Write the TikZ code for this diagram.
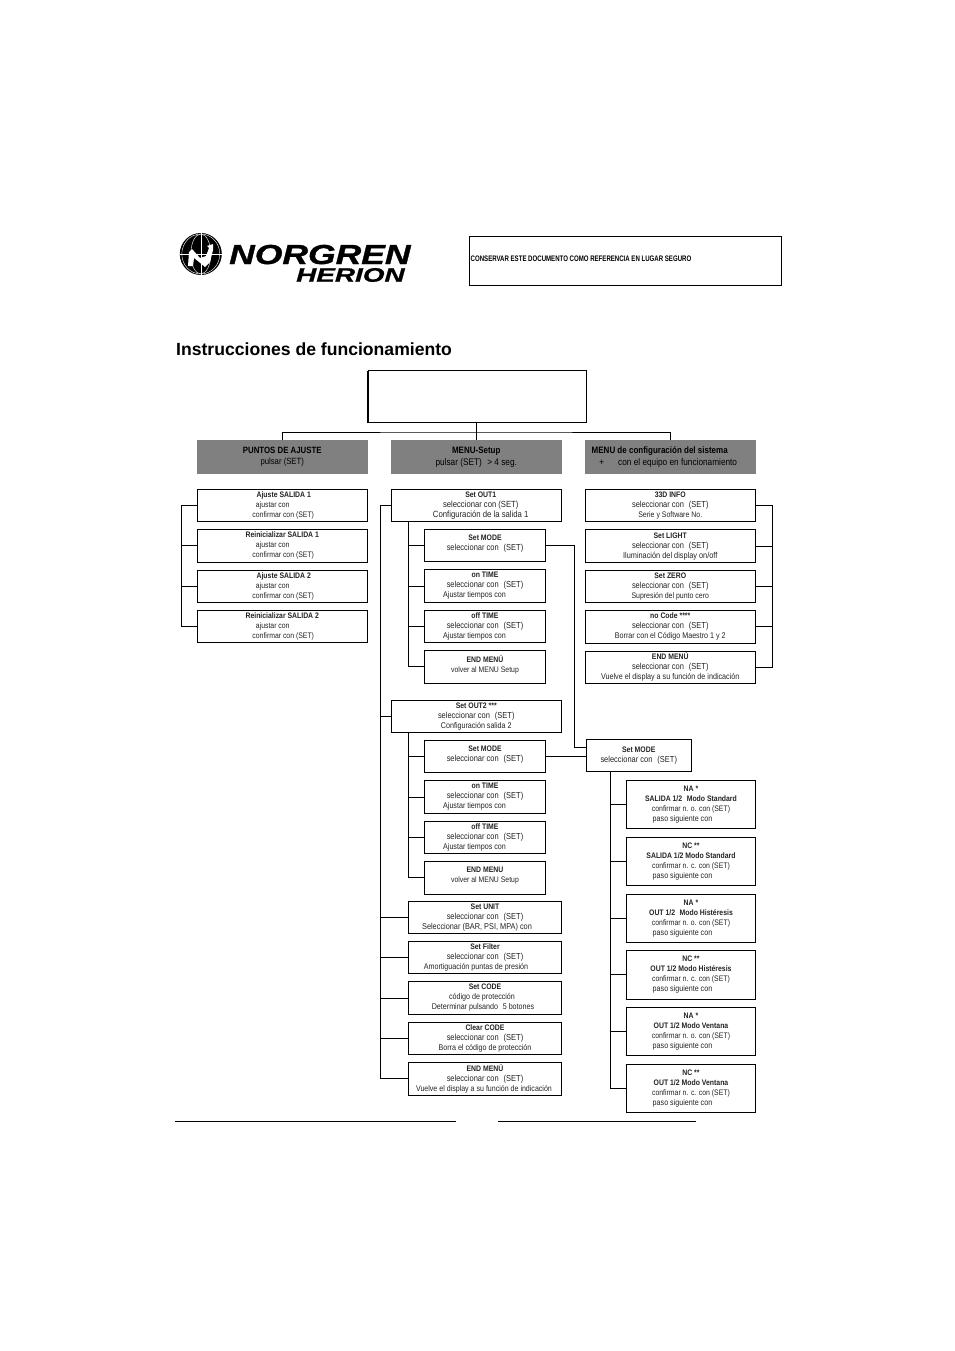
\documentclass[tikz,border=0pt]{standalone}
\usepackage{fontspec}
\usepackage{xcolor}
\usetikzlibrary{positioning,calc}
\setmainfont[FakeStretch=0.86]{Liberation Sans}
\newfontfamily\titlefont{Liberation Sans}
\newfontfamily\notefont[FakeStretch=0.76]{Liberation Sans}
\newfontfamily\brandfont[FakeStretch=1.29,FakeBold=1.2]{Liberation Sans}
\newfontfamily\subbrandfont[FakeStretch=1.43,FakeBold=1]{Liberation Sans}
\definecolor{headgray}{RGB}{128, 128, 128}
\definecolor{inktext}{RGB}{35, 35, 35}
\newcommand{\gapline}{\\[-4.6pt]~}
\newcommand{\shiftl}[1]{\mbox{}\kern#1pt\mbox{}}
\newcommand{\ttl}[1]{{\fontsize{8}{10}\selectfont\bfseries #1}}
\newcommand{\sized}[2]{{\fontsize{#1}{10}\selectfont #2}}
\newcommand{\selcon}{\sized{8.7}{seleccionar con\,\, (SET)}}

\begin{document}
\begin{tikzpicture}[
    x=1pt, y=-1pt,
    node distance=8pt,
    wire/.style={draw=black, line width=0.9pt},
    basebox/.style={draw=black, line width=0.9pt, outer sep=0pt, inner sep=0pt, align=center, text=inktext, font=\fontsize{8.3}{10}\selectfont},
    headbox/.style={basebox, draw=none, fill=headgray, text=black, anchor=north west, minimum width=170.5pt, minimum height=34pt, font=\fontsize{9.6}{11.5}\selectfont},
    wideitem/.style={basebox, minimum width=170.5pt, minimum height=32.4pt},
    leftitem/.style={wideitem, font=\fontsize{8}{10}\selectfont},
    subitem/.style={basebox, minimum width=121.4pt, minimum height=32.4pt},
    lowitem/.style={basebox, minimum width=153.4pt, minimum height=32.4pt},
    modeitem/.style={basebox, minimum width=128.6pt, minimum height=48.2pt},
]
    \useasboundingbox (0,0) rectangle (954,1351);

    % Logo
    \node[circle, fill=black, minimum size=42pt, inner sep=0pt] (globe) at (200.8,254) {};
    \begin{scope}[white, line width=0.4pt]
        \draw (globe.center) ellipse (10pt and 20pt);
        \draw (globe.center) ellipse (19pt and 20pt);
        \draw (globe.north) -- (globe.south);
        \draw (globe.west) -- (globe.east);
        \fill (188,266) -- (189,252) -- (192,249) -- (200,258) -- (206,256) -- (209,248) -- (207,246) -- (213,244) -- (213,250) -- (210,262) -- (205,267) -- (199,262) -- (194,258) -- (193,266) -- cycle;
    \end{scope}
    \node[anchor=base west, inner sep=0pt, text depth=0pt, text height=20pt, font=\brandfont\bfseries\itshape\fontsize{27.5}{29}\selectfont] (norgren) at (229,264) {NORGREN};
    \node[anchor=base west, inner sep=0pt, text depth=0pt, text height=14pt, font=\subbrandfont\bfseries\itshape\fontsize{19.5}{21}\selectfont] (herion) at (296,281.7) {HERION};

    % Page head
    \node[basebox, anchor=north west, minimum width=312pt, minimum height=49.5pt] (notebox) at (469.5,236) {};
    \node[anchor=west, inner sep=0pt, font=\notefont\bfseries\fontsize{8}{9}\selectfont] (notetext) at (470.5,259) {CONSERVAR ESTE DOCUMENTO COMO REFERENCIA EN LUGAR SEGURO};
    \node[anchor=base west, inner sep=0pt, font=\titlefont\bfseries\fontsize{17.6}{20}\selectfont] (pagetitle) at (176,355.5) {Instrucciones de funcionamiento};

    % Column heads
    \node[basebox, anchor=north west, minimum width=218.5pt, minimum height=52pt] (topbox) at (368,370.5) {};
    \draw[line width=1.5pt] (topbox.north west) -- (topbox.south west);
    \node[headbox] (puntos) at (197,440) {\sized{9.1}{\textbf{PUNTOS DE AJUSTE}}\\\sized{9}{pulsar (SET)}};
    \node[headbox] (menusetup) at (391,440) {\sized{9.3}{\textbf{MENU-Setup}}\\pulsar (SET)\,\, > 4 seg.};
    \node[headbox] (menusys) at (585,440) {\shiftl{-21}\sized{9.3}{\textbf{MENU de configuración del sistema}}\\\shiftl{-4}+\shiftl{14}con el equipo en funcionamiento};

    % Left column
    \node[leftitem, anchor=north west] (ajuste1) at (197,489.3) {\shiftl{3}\ttl{Ajuste SALIDA 1}\\ajustar con\shiftl{19}\\\shiftl{2}confirmar con (SET)};
    \node[leftitem, below=of ajuste1] (reset1) {\ttl{Reinicializar SALIDA 1}\\ajustar con\shiftl{19}\\\shiftl{2}confirmar con (SET)};
    \node[leftitem, below=of reset1] (ajuste2) {\shiftl{3}\ttl{Ajuste SALIDA 2}\\ajustar con\shiftl{19}\\\shiftl{2}confirmar con (SET)};
    \node[leftitem, below=of ajuste2] (reset2) {\ttl{Reinicializar SALIDA 2}\\ajustar con\shiftl{19}\\\shiftl{2}confirmar con (SET)};

    % Middle column, output 1
    \node[wideitem, anchor=north west] (out1) at (391,489.3) {\shiftl{9}\ttl{Set OUT1}\\\shiftl{9}\sized{8.9}{seleccionar con (SET)}\\\shiftl{9}\sized{9}{Configuración de la salida 1}};
    \node[subitem, anchor=north west] (mode1) at (424.3,529.5) {\ttl{Set MODE}\\\selcon\gapline};
    \node[subitem, below=of mode1] (ontime1) {\ttl{on TIME}\\\selcon\\Ajustar tiempos con\shiftl{21}};
    \node[subitem, below=of ontime1] (offtime1) {\ttl{off TIME}\\\selcon\\Ajustar tiempos con\shiftl{21}};
    \node[subitem, below=of offtime1] (end1) {\ttl{END MENÚ}\\\sized{8}{volver al MENU Setup}\gapline};

    % Middle column, output 2
    \node[wideitem, anchor=north west] (out2) at (391,700) {\ttl{Set OUT2 ***}\\\selcon\\Configuración salida 2};
    \node[subitem, anchor=north west] (mode2) at (424.3,740.4) {\ttl{Set MODE}\\\selcon\gapline};
    \node[subitem, below=of mode2] (ontime2) {\ttl{on TIME}\\\selcon\\Ajustar tiempos con\shiftl{21}};
    \node[subitem, below=of ontime2] (offtime2) {\ttl{off TIME}\\\selcon\\Ajustar tiempos con\shiftl{21}};
    \node[subitem, below=of offtime2] (end2) {\ttl{END MENU}\\\sized{8}{volver al MENU Setup}\gapline};

    % Middle column, remaining settings
    \node[lowitem, anchor=north west] (unit) at (408.3,901) {\ttl{Set UNIT}\\\selcon\\\sized{8.55}{Seleccionar (BAR, PSI, MPA) con}\shiftl{16}};
    \node[lowitem, below=of unit] (filter) {\ttl{Set Filter}\\\selcon\\Amortiguación puntas de presión\shiftl{18}};
    \node[lowitem, below=of filter] (code) {\ttl{Set CODE}\\código de protección\shiftl{6}\\Determinar pulsando\,\, 5 botones\shiftl{4}};
    \node[lowitem, below=of code] (clear) {\ttl{Clear CODE}\\\selcon\\Borra el código de protección};
    \node[lowitem, below=of clear] (endlow) {\ttl{END MENÚ}\\\selcon\\\sized{8.2}{Vuelve el display a su función de indicación}\shiftl{2}};

    % Right column
    \node[wideitem, anchor=north west] (info) at (585,489.5) {\ttl{33D INFO}\\\selcon\\\sized{8.1}{Serie y Software No.}};
    \node[wideitem, below=of info] (light) {\ttl{Set LIGHT}\\\selcon\\\sized{8.55}{Iluminación del display on/off}};
    \node[wideitem, below=of light] (zero) {\ttl{Set ZERO}\\\selcon\\\sized{8.1}{Supresión del punto cero}};
    \node[wideitem, below=of zero] (nocode) {\ttl{no Code ****}\\\selcon\\Borrar con el Código Maestro 1 y 2};
    \node[wideitem, below=of nocode] (endsys) {\ttl{END MENÚ}\\\selcon\\\sized{8.35}{Vuelve el display a su función de indicación}};

    % Mode submenu
    \node[basebox, anchor=north west, minimum width=105.5pt, minimum height=32.4pt] (modemain) at (586,739.3) {\ttl{Set MODE}\\\selcon};
    \node[modeitem, anchor=north west] (na1) at (626.7,780.7) {\ttl{NA *}\\\ttl{SALIDA 1/2\,\, Modo Standard}\\\sized{8}{confirmar n. o. con (SET)}\\paso siguiente con\shiftl{17}};
    \node[modeitem, below=8.5pt of na1] (nc1) {\ttl{NC **}\\\ttl{SALIDA 1/2 Modo Standard}\\\sized{8}{confirmar n. c. con (SET)}\\paso siguiente con\shiftl{17}};
    \node[modeitem, below=8.5pt of nc1] (na2) {\ttl{NA *}\\\ttl{OUT 1/2\,\, Modo Histéresis}\\\sized{8}{confirmar n. o. con (SET)}\\paso siguiente con\shiftl{17}};
    \node[modeitem, below=8.5pt of na2] (nc2) {\ttl{NC **}\\\ttl{OUT 1/2 Modo Histéresis}\\\sized{8}{confirmar n. c. con (SET)}\\paso siguiente con\shiftl{17}};
    \node[modeitem, below=8.5pt of nc2] (na3) {\ttl{NA *}\\\ttl{OUT 1/2 Modo Ventana}\\\sized{8}{confirmar n. o. con (SET)}\\paso siguiente con\shiftl{17}};
    \node[modeitem, below=8.5pt of na3] (nc3) {\ttl{NC **}\\\ttl{OUT 1/2 Modo Ventana}\\\sized{8}{confirmar n. c. con (SET)}\\paso siguiente con\shiftl{17}};

    % Bottom rules
    \coordinate (ruleAa) at (175,1121.7);
    \coordinate (ruleAb) at (456,1121.7);
    \coordinate (ruleBa) at (498,1121.7);
    \coordinate (ruleBb) at (696,1121.7);
    \draw[wire] (ruleAa) -- (ruleAb);
    \draw[wire] (ruleBa) -- (ruleBb);

    % Head connectors
    \coordinate (headbus) at (476,432);
    \draw[wire] (topbox.south -| headbus) -- (menusetup.north -| headbus);
    \draw[wire] (puntos.north) |- (headbus) -| (menusys.north);

    % Combs
    \coordinate (leftbus) at (181.7,0);
    \coordinate (outerbus) at (380,0);
    \coordinate (innerbus) at (408.7,0);
    \coordinate (rightbus) at (772.3,0);
    \coordinate (modebus) at (610,0);
    \coordinate (jumpbus) at (574,0);

    \draw[wire] (ajuste1.west) -| (leftbus |- reset2.west) -- (reset2.west);
    \foreach \n in {reset1,ajuste2}
        \draw[wire] (\n.west) -- (\n.west -| leftbus);

    \draw[wire] (out1.west) -| (outerbus |- endlow.west) -- (endlow.west);
    \foreach \n in {out2,unit,filter,code,clear}
        \draw[wire] (\n.west) -- (\n.west -| outerbus);

    \draw[wire] (out1.south -| innerbus) |- (end1.west);
    \foreach \n in {mode1,ontime1,offtime1}
        \draw[wire] (\n.west) -- (\n.west -| innerbus);

    \draw[wire] (out2.south -| innerbus) |- (end2.west);
    \foreach \n in {mode2,ontime2,offtime2}
        \draw[wire] (\n.west) -- (\n.west -| innerbus);

    \draw[wire] (info.east) -| (rightbus |- endsys.east) -- (endsys.east);
    \foreach \n in {light,zero,nocode}
        \draw[wire] (\n.east) -- (\n.east -| rightbus);

    % Mode links
    \coordinate (modetap) at ($(modemain.north west)+(0,8)$);
    \draw[wire] (mode1.east) -| (jumpbus |- modetap) -- (modetap);
    \draw[wire] (mode2.east) -- (mode2.east -| modemain.west);
    \draw[wire] (modemain.south -| modebus) |- (nc3.west);
    \foreach \n in {na1,nc1,na2,nc2,na3}
        \draw[wire] (\n.west) -- (\n.west -| modebus);

\end{tikzpicture}
\end{document}
